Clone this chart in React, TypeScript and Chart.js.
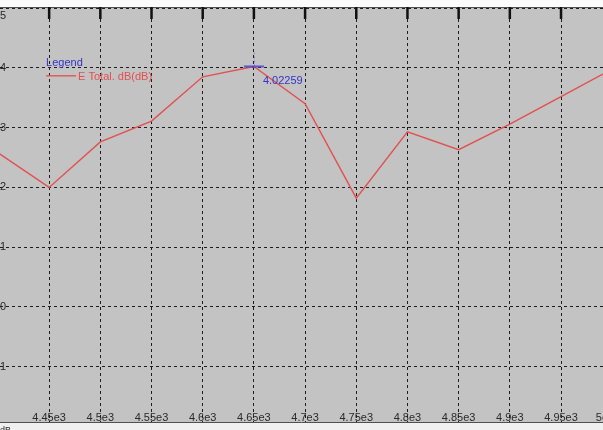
import React, { useEffect, useRef } from 'react';
import { Chart, registerables } from 'chart.js';

Chart.register(...registerables);

// ---- data ----
const freqs = [4400, 4450, 4500, 4550, 4600, 4650, 4700, 4750, 4800, 4850, 4900, 4950, 5000];
const eTotal = [2.58, 2.0, 2.76, 3.11, 3.85, 4.02259, 3.4, 1.82, 2.93, 2.63, 3.06, 3.52, 3.98];
const xTickValues = [4450, 4500, 4550, 4600, 4650, 4700, 4750, 4800, 4850, 4900, 4950, 5000];
const xTickLabels = ['4.45e3', '4.5e3', '4.55e3', '4.6e3', '4.65e3', '4.7e3', '4.75e3', '4.8e3', '4.85e3', '4.9e3', '4.95e3', '5e3'];
const yTickValues = [5, 4, 3, 2, 1, 0, -1];
const yTickLabels = ['5', '4', '3', '2', '1', '0', '-1'];
const seriesLabel = 'E Total. dB(dB)';
const legendTitle = 'Legend';
const peakFreq = 4650;
const peakValue = 4.02259;
const peakLabel = '4.02259';
const yUnitLabel = 'dB';

const X_MIN = 4402;
const X_MAX = 4991;

const FONT = '"Liberation Sans", Arial, sans-serif';
const RED = 'rgb(226,80,80)';
const BLUE = '#3434c8';

const decorPlugin = {
  id: 'decor',
  beforeDraw(chart: any) {
    const { ctx, chartArea: a, width, height } = chart;
    ctx.save();
    ctx.fillStyle = '#fbfbfb';
    ctx.fillRect(0, 0, width, a.top);
    ctx.fillStyle = '#f0f0f0';
    ctx.fillRect(0, a.bottom, width, height - a.bottom);
    ctx.fillStyle = '#c3c3c3';
    ctx.fillRect(a.left, a.top, a.right - a.left, a.bottom - a.top);
    ctx.restore();
  },
  afterDraw(chart: any) {
    const { ctx, chartArea: a } = chart;
    const xs = chart.scales.x;
    const ys = chart.scales.y;
    ctx.save();
    // borders
    ctx.strokeStyle = '#505050';
    ctx.lineWidth = 1;
    ctx.beginPath();
    ctx.moveTo(a.left, a.top + 0.5);
    ctx.lineTo(a.right, a.top + 0.5);
    ctx.moveTo(a.left, a.bottom - 0.5);
    ctx.lineTo(a.right, a.bottom - 0.5);
    ctx.stroke();
    // top tick marks
    ctx.strokeStyle = '#111';
    ctx.lineWidth = 2.5;
    ctx.beginPath();
    xTickValues.forEach((v) => {
      const px = xs.getPixelForValue(v);
      if (px > a.left + 2 && px < a.right - 2) {
        ctx.moveTo(px, a.top);
        ctx.lineTo(px, a.top + 12);
      }
    });
    ctx.stroke();
    // x tick labels
    ctx.fillStyle = '#2a2a2a';
    ctx.font = `11px ${FONT}`;
    ctx.textAlign = 'center';
    ctx.textBaseline = 'alphabetic';
    xTickValues.forEach((v, i) => {
      const px = Math.min(xs.getPixelForValue(v), a.right + 2);
      ctx.fillText(xTickLabels[i], px, a.bottom - 2);
    });
    // y tick labels
    ctx.textAlign = 'right';
    ctx.textBaseline = 'middle';
    yTickValues.forEach((v, i) => {
      const py = Math.max(ys.getPixelForValue(v), a.top + 8.5);
      ctx.fillText(yTickLabels[i], a.left + 6, py);
    });
    // unit label in bottom strip
    ctx.textAlign = 'left';
    ctx.textBaseline = 'top';
    ctx.font = `9px ${FONT}`;
    ctx.fillText(yUnitLabel, 0, a.bottom + 3);

    // legend
    const lx = xs.getPixelForValue(4447);
    const ly = ys.getPixelForValue(4);
    ctx.font = `11px ${FONT}`;
    ctx.textBaseline = 'alphabetic';
    ctx.fillStyle = BLUE;
    ctx.fillText(legendTitle, lx, ly - 2);
    ctx.strokeStyle = RED;
    ctx.lineWidth = 1.3;
    ctx.beginPath();
    ctx.moveTo(lx, ly + 8);
    ctx.lineTo(lx + 30, ly + 8);
    ctx.stroke();
    ctx.fillStyle = RED;
    ctx.textBaseline = 'middle';
    ctx.fillText(seriesLabel, lx + 32, ly + 9);

    // peak marker
    const px = xs.getPixelForValue(peakFreq);
    const py = ys.getPixelForValue(peakValue);
    ctx.strokeStyle = 'rgba(70,70,215,0.85)';
    ctx.lineWidth = 2;
    ctx.beginPath();
    ctx.moveTo(px - 10, py);
    ctx.lineTo(px + 10, py);
    ctx.stroke();
    ctx.lineWidth = 1;
    ctx.setLineDash([2, 2]);
    ctx.strokeStyle = 'rgba(90,90,220,0.6)';
    ctx.beginPath();
    ctx.moveTo(px + 0.5, py - 14);
    ctx.lineTo(px + 0.5, py);
    ctx.stroke();
    ctx.setLineDash([]);
    ctx.fillStyle = BLUE;
    ctx.textAlign = 'left';
    ctx.textBaseline = 'middle';
    ctx.fillText(peakLabel, px + 9, py + 15);
    ctx.restore();
  },
};

export default function App() {
  const ref = useRef<HTMLCanvasElement | null>(null);
  useEffect(() => {
    if (!ref.current) return;
    const chart = new Chart(ref.current, {
      type: 'line',
      data: {
        datasets: [
          {
            label: seriesLabel,
            data: freqs.map((f, i) => ({ x: f, y: eTotal[i] })),
            borderColor: RED,
            borderWidth: 1.4,
            pointRadius: 0,
            tension: 0,
            fill: false,
          },
        ],
      },
      options: {
        animation: false,
        responsive: false,
        devicePixelRatio: 1,
        layout: { padding: { top: 7, bottom: 7, left: 0, right: 0 } },
        plugins: { legend: { display: false }, tooltip: { enabled: false } },
        scales: {
          x: {
            type: 'linear',
            min: X_MIN,
            max: X_MAX,
            afterBuildTicks: (s: any) => {
              s.ticks = xTickValues.filter((v) => v > X_MIN && v < X_MAX).map((v) => ({ value: v }));
            },
            ticks: { display: false },
            grid: { color: '#1c1c1c', lineWidth: 1, drawTicks: false, tickLength: 0 },
            border: { display: false, dash: [3, 3] },
          },
          y: {
            type: 'linear',
            min: -1.94,
            max: 5.017,
            afterBuildTicks: (s: any) => {
              s.ticks = yTickValues.map((v) => ({ value: v }));
            },
            ticks: { display: false },
            grid: { color: '#1c1c1c', lineWidth: 1, drawTicks: false, tickLength: 0 },
            border: { display: false, dash: [3, 3] },
          },
        },
      },
      plugins: [decorPlugin],
    } as any);
    return () => chart.destroy();
  }, []);
  return (
    <div style={{ position: 'fixed', left: 0, top: 0, width: 603, height: 430 }}>
      <canvas ref={ref} width={603} height={430} style={{ display: 'block' }} />
    </div>
  );
}
